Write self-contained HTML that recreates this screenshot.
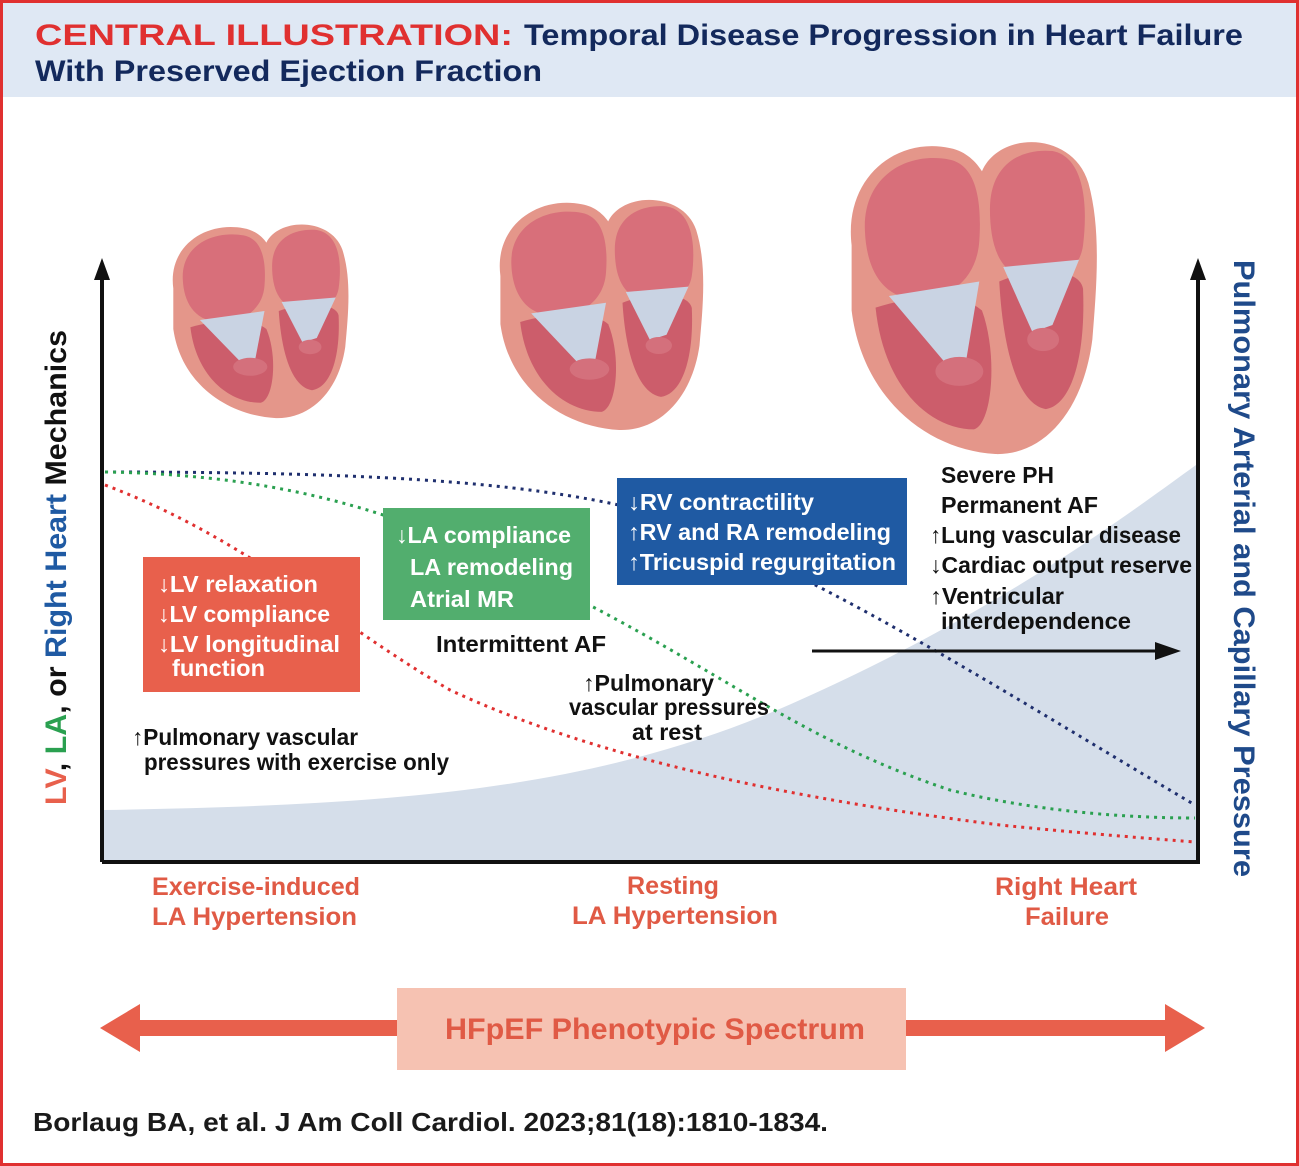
<!DOCTYPE html>
<html><head><meta charset="utf-8"><style>html,body{margin:0;padding:0;background:#fff}svg{display:block}text{font-family:"Liberation Sans Narrow","Liberation Sans",sans-serif;font-weight:bold}</style></head><body>
<svg width="1299" height="1166" viewBox="0 0 1299 1166" xmlns="http://www.w3.org/2000/svg">
<defs>
<g id="heart">
<path d="M14,85 C8,38 48,10 88,18 C100,20 108,28 112,34 C125,6 180,6 192,42 C202,75 198,115 195,150 C188,200 158,230 122,229 C70,226 22,190 14,130 Z" fill="#e4968a"/>
<path d="M24,75 C22,38 55,20 88,26 C108,30 112,55 110,82 C108,110 85,124 60,122 C36,120 25,100 24,75 Z" fill="#d86f7a"/>
<path d="M118,60 C118,30 140,18 165,20 C188,24 192,55 188,85 C185,105 165,112 145,108 C125,104 118,85 118,60 Z" fill="#d86f7a"/>
<path d="M32,128 C60,120 95,116 112,130 C124,160 120,208 106,212 C72,212 38,182 32,128 Z" fill="#cc5d6b"/>
<path d="M125,110 C150,100 185,100 188,115 C190,160 180,195 160,198 C140,195 128,160 125,110 Z" fill="#cc5d6b"/>
<path d="M42,120 L110,110 L100,165 L88,170 Z" fill="#c9d3e3"/>
<path d="M128,100 L185,95 L165,140 L150,145 Z" fill="#c9d3e3"/>
<ellipse cx="95" cy="172" rx="18" ry="10" fill="#d4707c"/>
<ellipse cx="158" cy="150" rx="12" ry="8" fill="#d4707c"/>
</g>
</defs>
<rect x="1.5" y="1.5" width="1296" height="1163" fill="#fff" stroke="#e03030" stroke-width="3"/>
<rect x="3" y="3" width="1293" height="94" fill="#dfe8f4"/>
<text x="35" y="45" font-size="30" fill="#e03030" textLength="478" lengthAdjust="spacingAndGlyphs" font-family="Liberation Sans">CENTRAL ILLUSTRATION:</text>
<text x="524" y="45" font-size="30" fill="#13295c" textLength="719" lengthAdjust="spacingAndGlyphs">Temporal Disease Progression in Heart Failure</text>
<text x="35" y="81" font-size="30" fill="#13295c" textLength="507" lengthAdjust="spacingAndGlyphs">With Preserved Ejection Fraction</text>

<use href="#heart" transform="translate(160,212) scale(0.95,0.9)"/>
<use href="#heart" transform="translate(485,185) scale(1.1,1.07)"/>
<use href="#heart" transform="translate(833,122) scale(1.33,1.45)"/>

<path d="M104,860 L104,810 C400,805 600,790 800,700 C1000,610 1120,520 1196,465 L1196,860 Z" fill="#d5deea"/>

<path d="M105,472 C350,472 520,480 640,510 C800,560 1000,690 1195,805" fill="none" stroke="#1f2f6e" stroke-width="3" stroke-dasharray="3,5"/>
<path d="M105,472 C300,475 420,520 560,590 C720,670 800,740 950,790 C1050,815 1150,818 1195,818" fill="none" stroke="#2aa050" stroke-width="3" stroke-dasharray="3,5"/>
<path d="M105,485 C250,540 330,620 450,690 C600,760 800,800 1000,825 C1100,835 1170,840 1195,842" fill="none" stroke="#e03030" stroke-width="3" stroke-dasharray="3,5"/>

<path d="M102,862 L102,270 M102,862 L1198,862 L1198,270" fill="none" stroke="#111" stroke-width="4"/>
<path d="M94,280 L102,258 L110,280 Z M1190,280 L1198,258 L1206,280 Z" fill="#111"/>

<text transform="translate(66,805) rotate(-90)" font-size="30" textLength="475" lengthAdjust="spacingAndGlyphs"><tspan fill="#e8604c">LV</tspan><tspan fill="#111">, </tspan><tspan fill="#2aa050">LA</tspan><tspan fill="#111">, or </tspan><tspan fill="#1f5aa3">Right Heart</tspan><tspan fill="#111"> Mechanics</tspan></text>
<text transform="translate(1234,260) rotate(90)" font-size="30" fill="#1f4a8a" textLength="617" lengthAdjust="spacingAndGlyphs">Pulmonary Arterial and Capillary Pressure</text>

<rect x="143" y="557" width="217" height="135" fill="#e8604c"/>
<g fill="#fff" font-size="23">
<text x="158" y="592" textLength="160" lengthAdjust="spacingAndGlyphs">↓LV relaxation</text>
<text x="158" y="622" textLength="172" lengthAdjust="spacingAndGlyphs">↓LV compliance</text>
<text x="158" y="652" textLength="182" lengthAdjust="spacingAndGlyphs">↓LV longitudinal</text>
<text x="172" y="676" textLength="93" lengthAdjust="spacingAndGlyphs">function</text>
</g>
<rect x="383" y="508" width="207" height="112" fill="#52ae6e"/>
<g fill="#fff" font-size="23">
<text x="396" y="543" textLength="175" lengthAdjust="spacingAndGlyphs">↓LA compliance</text>
<text x="410" y="575" textLength="163" lengthAdjust="spacingAndGlyphs">LA remodeling</text>
<text x="410" y="607" textLength="104" lengthAdjust="spacingAndGlyphs">Atrial MR</text>
</g>
<rect x="617" y="478" width="290" height="107" fill="#1f5aa3"/>
<g fill="#fff" font-size="23">
<text x="628" y="510" textLength="186" lengthAdjust="spacingAndGlyphs">↓RV contractility</text>
<text x="628" y="540" textLength="263" lengthAdjust="spacingAndGlyphs">↑RV and RA remodeling</text>
<text x="628" y="570" textLength="268" lengthAdjust="spacingAndGlyphs">↑Tricuspid regurgitation</text>
</g>
<g fill="#111" font-size="23">
<text x="941" y="483" textLength="113" lengthAdjust="spacingAndGlyphs">Severe PH</text>
<text x="941" y="513" textLength="157" lengthAdjust="spacingAndGlyphs">Permanent AF</text>
<text x="930" y="543" textLength="251" lengthAdjust="spacingAndGlyphs">↑Lung vascular disease</text>
<text x="930" y="573" textLength="262" lengthAdjust="spacingAndGlyphs">↓Cardiac output reserve</text>
<text x="930" y="604" textLength="134" lengthAdjust="spacingAndGlyphs">↑Ventricular</text>
<text x="941" y="629" textLength="190" lengthAdjust="spacingAndGlyphs">interdependence</text>
<text x="436" y="652" textLength="170" lengthAdjust="spacingAndGlyphs">Intermittent AF</text>
<text x="583" y="691" textLength="131" lengthAdjust="spacingAndGlyphs">↑Pulmonary</text>
<text x="569" y="715" textLength="200" lengthAdjust="spacingAndGlyphs">vascular pressures</text>
<text x="632" y="740" textLength="70" lengthAdjust="spacingAndGlyphs">at rest</text>
<text x="132" y="745" textLength="226" lengthAdjust="spacingAndGlyphs">↑Pulmonary vascular</text>
<text x="144" y="770" textLength="305" lengthAdjust="spacingAndGlyphs">pressures with exercise only</text>
</g>
<path d="M812,651 L1160,651" stroke="#111" stroke-width="3"/>
<path d="M1155,642 L1181,651 L1155,660 Z" fill="#111"/>

<g fill="#e05a45" font-size="25">
<text x="152" y="895" textLength="208" lengthAdjust="spacingAndGlyphs">Exercise-induced</text>
<text x="152" y="925" textLength="205" lengthAdjust="spacingAndGlyphs">LA Hypertension</text>
<text x="627" y="894" textLength="92" lengthAdjust="spacingAndGlyphs">Resting</text>
<text x="572" y="924" textLength="206" lengthAdjust="spacingAndGlyphs">LA Hypertension</text>
<text x="995" y="895" textLength="142" lengthAdjust="spacingAndGlyphs">Right Heart</text>
<text x="1025" y="925" textLength="84" lengthAdjust="spacingAndGlyphs">Failure</text>
</g>

<rect x="135" y="1020" width="1035" height="16" fill="#e8604c"/>
<path d="M140,1004 L100,1028 L140,1052 Z M1165,1004 L1205,1028 L1165,1052 Z" fill="#e8604c"/>
<rect x="397" y="988" width="509" height="82" fill="#f6c2b2"/>
<text x="445" y="1039" font-size="30" fill="#e05a45" textLength="420" lengthAdjust="spacingAndGlyphs">HFpEF Phenotypic Spectrum</text>

<text x="33" y="1131" font-size="26" fill="#1a1a1a" textLength="795" lengthAdjust="spacingAndGlyphs">Borlaug BA, et al. J Am Coll Cardiol. 2023;81(18):1810-1834.</text>
</svg>
</body></html>
